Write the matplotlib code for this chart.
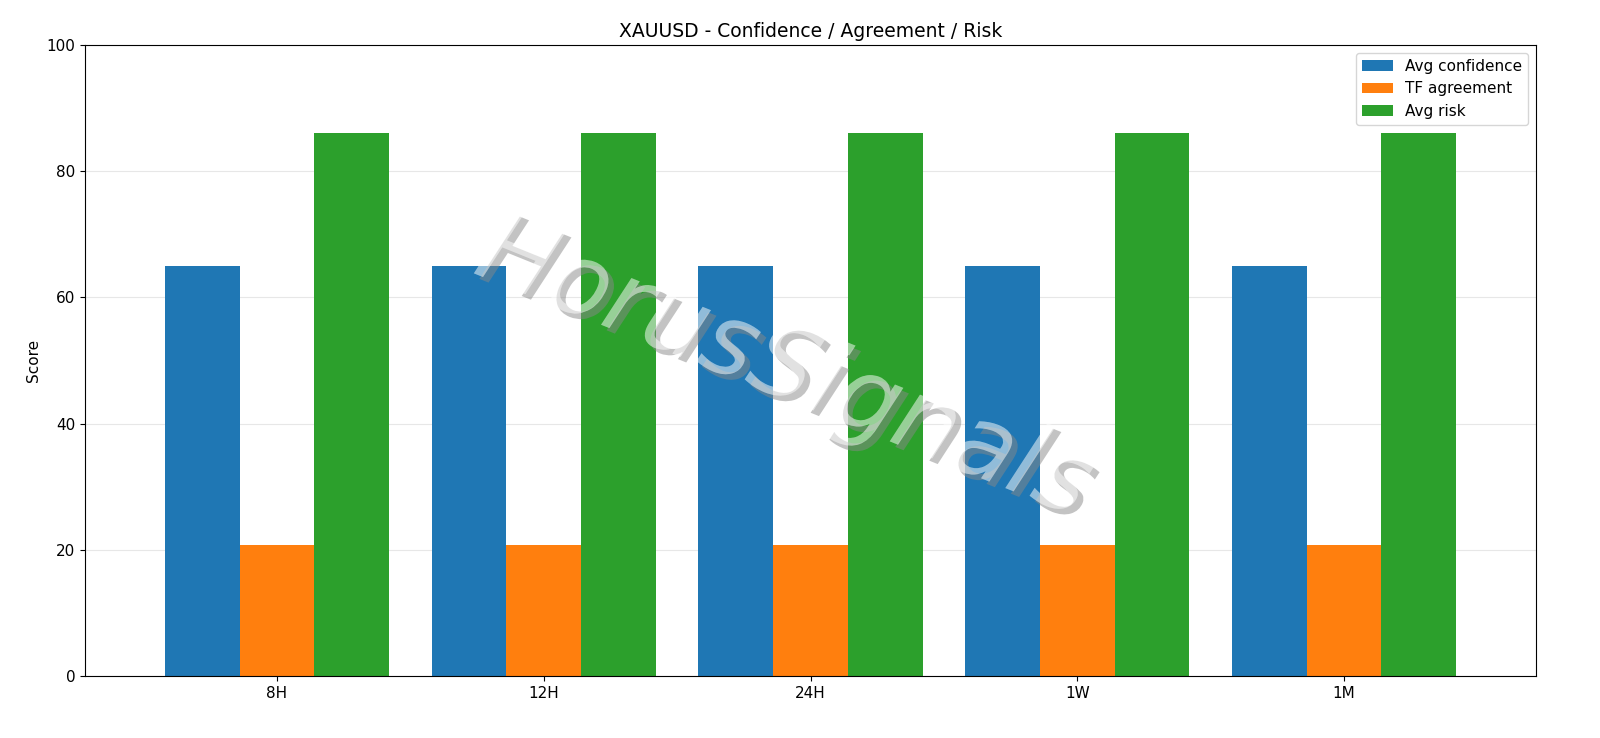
import matplotlib
matplotlib.use("Agg")
import matplotlib.pyplot as plt
import matplotlib.patheffects as pe
import numpy as np

categories = ["8H", "12H", "24H", "1W", "1M"]
avg_confidence = [65.0, 65.0, 65.0, 65.0, 65.0]
tf_agreement = [20.7, 20.7, 20.7, 20.7, 20.7]
avg_risk = [86.1, 86.1, 86.1, 86.1, 86.1]

fig = plt.figure(figsize=(16, 7.38), dpi=100)
ax = fig.add_axes([85/1600, 1-676/738, (1536-85)/1600, (676-45)/738])
x = np.arange(len(categories))
w = 0.28
ax.bar(x - w, avg_confidence, w, label="Avg confidence", color="#1f77b4")
ax.bar(x, tf_agreement, w, label="TF agreement", color="#ff7f0e")
ax.bar(x + w, avg_risk, w, label="Avg risk", color="#2ca02c")
ax.set_xticks(x)
ax.set_xticklabels(categories)
ax.set_ylim(0, 100)
ax.set_xlim(-0.72, 4.72)
ax.set_ylabel("Score")
ax.set_title("XAUUSD - Confidence / Agreement / Risk", fontsize=13.5)
ax.grid(axis="y", alpha=0.3)
ax.set_axisbelow(True)
ax.legend(loc="upper right", fontsize=11)
ax.tick_params(labelsize=11)
ax.yaxis.label.set_size(11)

fig.text(0.49, 0.50, "HorusSignals", fontsize=72, rotation=-22, ha="center", va="center",
         color="white", alpha=0.3, style="italic",
         path_effects=[pe.withSimplePatchShadow(offset=(4, -4), shadow_rgbFace="#888888", alpha=0.5), pe.Normal()])
fig.savefig("out.png", dpi=100)
